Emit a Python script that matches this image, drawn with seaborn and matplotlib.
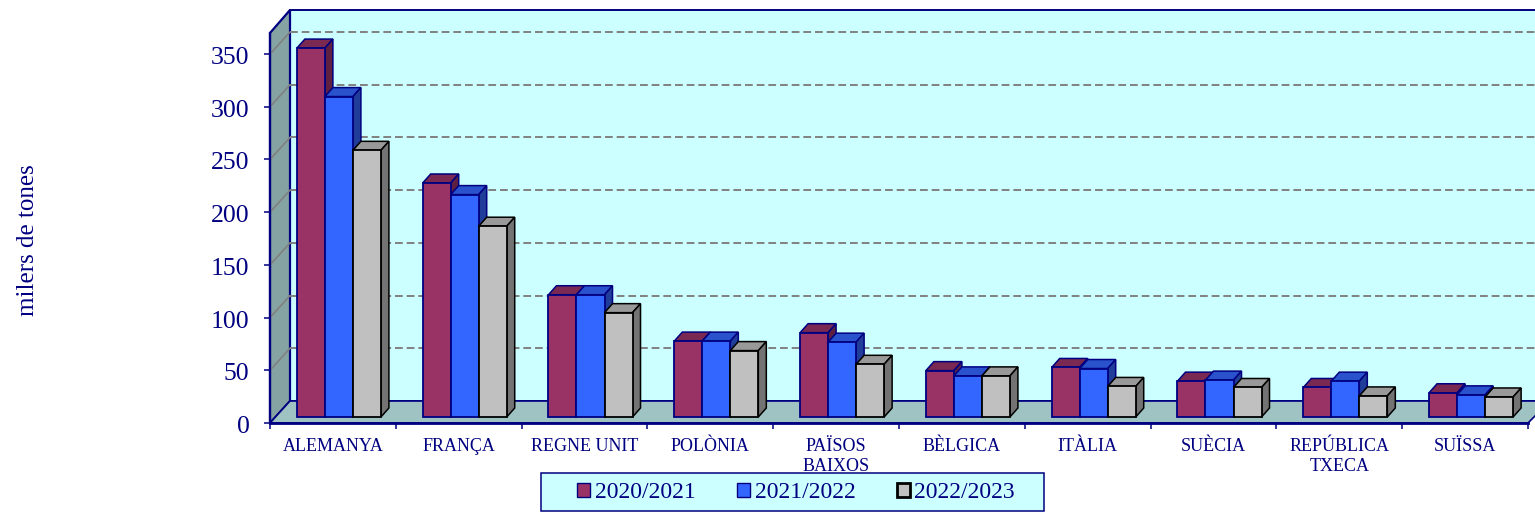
import numpy as np
import pandas as pd
import matplotlib
matplotlib.use('Agg')
import matplotlib.pyplot as plt
from matplotlib.patches import Polygon, Rectangle
from matplotlib.transforms import Affine2D, IdentityTransform
import seaborn as sns

countries = ['ALEMANYA', 'FRANÇA', 'REGNE UNIT', 'POLÒNIA', 'PAÏSOS\nBAIXOS',
             'BÈLGICA', 'ITÀLIA', 'SUÈCIA', 'REPÚBLICA\nTXECA', 'SUÏSSA']
seasons = ['2020/2021', '2021/2022', '2022/2023']
values_2021 = [350, 222, 116, 72, 80, 44, 47, 34, 28, 23]
values_2022 = [304, 211, 116, 72, 71, 39, 46, 35, 34, 21]
values_2023 = [253, 181, 99, 63, 50, 39, 29, 28, 20, 19]
y_ticks = [0, 50, 100, 150, 200, 250, 300, 350]

navy = '#000080'
wall = '#CCFFFF'
front_colors = ['#993366', '#3366FF', '#C0C0C0']
top_colors = ['#7A2952', '#2952CC', '#999999']
side_colors = ['#5F1F40', '#1F3D99', '#737373']
edge_colors = [navy, navy, 'black']

sns.set_theme(style='white')
plt.rcParams['font.family'] = ['Liberation Serif', 'DejaVu Serif']

W, H = 1535, 512
fig = plt.figure(figsize=(W / 100, H / 100), dpi=100)
ax = fig.add_axes([270 / W, (H - 423) / H, 1258 / W, 390 / H])
px = Affine2D().scale(1, -1).translate(0, H)   # pixel coords measured from top left

df = pd.DataFrame({
    'country': countries * 3,
    'season': np.repeat(seasons, len(countries)),
    'value': values_2021 + values_2022 + values_2023,
})
sns.barplot(data=df, x='country', y='value', hue='season', palette=front_colors,
            width=0.668, gap=0, saturation=1, linewidth=1.3, ax=ax)
ax.set_xlim(-0.5, 9.5)
ax.set_ylim(0, 370)
ax.patch.set_visible(False)

# walls and floor
wall_kw = dict(transform=px, clip_on=False, zorder=0.1)
ax.add_patch(Rectangle((290, 10), 1260, 391, fc=wall, ec=navy, lw=1.4, **wall_kw))
ax.add_patch(Polygon([(270, 33), (290, 10), (290, 401), (270, 423)], fc='#86A3A3', ec=navy, lw=1.6, **wall_kw))
ax.add_patch(Polygon([(270, 423), (290, 401), (1550, 401), (1528, 423)], fc='#9FC3C3', ec=navy, lw=1.2, **wall_kw))

# gridlines on the back wall, slanting over the left wall
for v in y_ticks[1:]:
    fx, fy = ax.transData.transform((-0.5, v))
    ax.plot([fx, fx + 20], [fy, fy + 22], color='#808080', lw=1.2,
            transform=IdentityTransform(), clip_on=False, zorder=0.5)
    ax.plot([fx + 20, W + 20], [fy + 22, fy + 22], color='#808080', lw=1.4, ls=(0, (4, 2)),
            transform=IdentityTransform(), clip_on=False, zorder=0.5)

# shift the front faces off the axis plane and add the 3D faces
shift = Affine2D().translate(6, 6)
depth_x, depth_y = 8, 9
for i, cont in enumerate(ax.containers):
    for j, bar in enumerate(cont):
        bar.set_transform(ax.transData + shift)
        bar.set_edgecolor(edge_colors[i])
        bar.set_clip_on(False)
        (x0, y0), (x1, y1) = (ax.transData + shift).transform(
            [(bar.get_x(), 0), (bar.get_x() + bar.get_width(), bar.get_height())])
        z = 2 + j + i * 0.1
        bar.set_zorder(z + 0.02)
        top = [(x0, y1), (x1, y1), (x1 + depth_x, y1 + depth_y), (x0 + depth_x, y1 + depth_y)]
        side = [(x1, y0), (x1 + depth_x, y0 + depth_y), (x1 + depth_x, y1 + depth_y), (x1, y1)]
        for pts, col in ((top, top_colors[i]), (side, side_colors[i])):
            ax.add_patch(Polygon(pts, fc=col, ec=edge_colors[i], lw=1.1, transform=IdentityTransform(),
                                 clip_on=False, zorder=z))

# axes
ax.set_yticks(y_ticks)
ax.set_xticks(np.arange(-0.5, 10, 1), minor=True)
ax.set_xticks(range(len(countries)))
ax.set_xticklabels(countries, fontsize=13, color=navy, linespacing=1.2)
ax.tick_params(axis='x', which='major', length=0, pad=11)
ax.tick_params(axis='x', which='minor', length=4, width=1.1, color=navy, bottom=True)
ax.tick_params(axis='y', length=4.3, width=1.1, color=navy, labelcolor=navy, labelsize=18.5, pad=10.5, left=True)
for label in ax.get_yticklabels():
    label.set_transform(label.get_transform() + Affine2D().translate(0, -1.5))
ax.set_xlabel('')
ax.set_ylabel('milers de tones', fontsize=18, color=navy, va='center')
ax.yaxis.set_label_coords(28, 240, transform=px)
sns.despine(ax=ax, top=True, right=True)
ax.spines['left'].set_color(navy)
ax.spines['left'].set_linewidth(1.6)
ax.spines['bottom'].set_color(navy)
ax.spines['bottom'].set_linewidth(2)

# legend box
fig.add_artist(Rectangle((541, 473), 503, 38, fc=wall, ec=navy, lw=1.1, transform=px, zorder=-1))
leg = ax.legend(loc='center', bbox_to_anchor=(796, 493), bbox_transform=px, ncols=3, frameon=False,
                fontsize=17, labelcolor=navy, handlelength=0.55, handleheight=0.55,
                handletextpad=0.2, columnspacing=1.75, borderpad=0, title=None)
leg.set_zorder(20)
for patch, col in zip(leg.get_patches(), edge_colors):
    patch.set_edgecolor(col)
    patch.set_linewidth(2 if col == 'black' else 1)

fig.savefig('out.png', dpi=100)
